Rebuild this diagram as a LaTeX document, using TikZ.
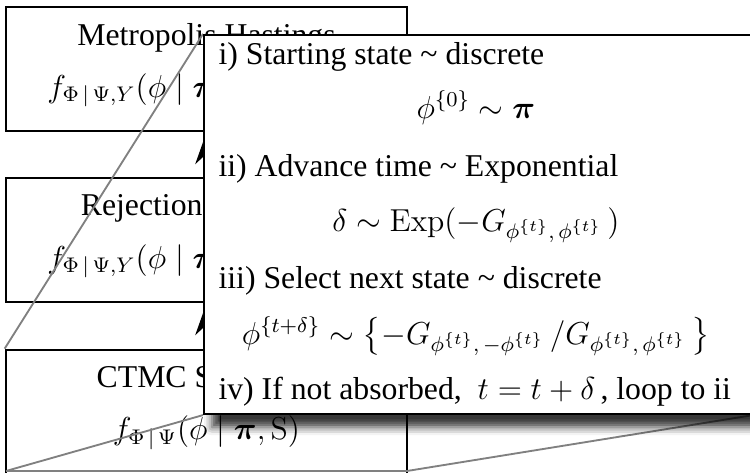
\documentclass[tikz,border=0pt,12pt]{standalone}
\usepackage[no-math]{fontspec}
\setmainfont{Liberation Serif}
\usepackage{amsmath,bm}
\usetikzlibrary{arrows.meta,shadows.blur}
\pgfdeclarelayer{front}
\pgfsetlayers{main,front}

\tikzset{
  samplerbox/.style={draw,line width=1pt,minimum width=151.6pt,minimum height=46.9pt,inner sep=0pt},
  boxtext/.style={anchor=base,inner sep=0pt},
  zoomline/.style={draw=gray,line width=0.7pt},
  lensbox/.style={draw,line width=0.8pt,fill=white,minimum width=207.1pt,minimum height=143.3pt,inner sep=0pt,
    blur shadow={shadow xshift=3pt,shadow yshift=-5pt,shadow blur radius=3pt,shadow opacity=78}},
  stepline/.style={anchor=base west,inner sep=0pt},
  stepmath/.style={anchor=base,inner sep=0pt},
}

\begin{document}
\begin{tikzpicture}[x=0.378pt,y=-0.378pt]
\useasboundingbox (0,0) rectangle (750,473);
% the three samplers
\node[samplerbox] (mh) at (206.5,69) {};
\node[boxtext] (mhname) at (206.5,45) {Metropolis Hastings};
\node[boxtext] (mhdens) at (206.5,97) {$f_{\Phi\,|\,\Psi,Y}(\phi\mid\boldsymbol{\pi},\mathrm{S},\boldsymbol{\theta},\psi,Y)$};
\node[samplerbox] (rs) at (206.5,240) {};
\node[boxtext] (rsname) at (206.5,215) {Rejection Sampling};
\node[boxtext] (rsdens) at (206.5,268) {$f_{\Phi\,|\,\Psi,Y}(\phi\mid\boldsymbol{\pi},\mathrm{S},\boldsymbol{\theta},\psi,Y)$};
\node[samplerbox] (ctmc) at (206.5,412) {};
\node[boxtext] (ctmcname) at (206.5,387) {CTMC Sampling};
\node[boxtext] (ctmcdens) at (206.5,440) {$f_{\Phi\,|\,\Psi}(\phi\mid\boldsymbol{\pi},\mathrm{S})$};
\draw[-{Stealth[length=12pt,width=8.5pt]},line width=1pt] (rs.north) -- (mh.south);
\draw[-{Stealth[length=12pt,width=8.5pt]},line width=1pt] (ctmc.north) -- (rs.south);

% zoomed view of the CTMC step
\begin{pgfonlayer}{front}
\node[lensbox] (lens) at (478,224.5) {};
\node[stepline] (step1) at (218,64) {i) Starting state \textasciitilde\ discrete};
\node[stepmath] (draw1) at (476,118) {$\phi^{\{0\}} \sim \boldsymbol{\pi}$};
\node[stepline] (step2) at (218,176) {ii) Advance time \textasciitilde\ Exponential};
\node[stepmath] (draw2) at (476,231) {$\delta \sim \mathrm{Exp}(-G_{\phi^{\{t\}},\,\phi^{\{t\}}}\,)$};
\node[stepline] (step3) at (218,288) {iii) Select next state \textasciitilde\ discrete};
\node[stepmath] (draw3) at (476,344) {$\phi^{\{t+\delta\}} \sim \left\{-G_{\phi^{\{t\}},\,-\phi^{\{t\}}}\,/G_{\phi^{\{t\}},\,\phi^{\{t\}}}\,\right\}$};
\node[stepline] (step4) at (218,400) {iv) If not absorbed,~~$t = t + \delta$\,, loop to ii};
\end{pgfonlayer}
\coordinate (lenssw) at (6,471);
\coordinate (lensse) at (407,471);
\draw[zoomline] (lenssw) -- (lensse);
\draw[zoomline] (ctmc.north west) -- (lens.north west);
\draw[zoomline] (lenssw) -- (lens.south west);
\draw[zoomline] (lensse) -- (lens.south east);
\end{tikzpicture}
\end{document}
